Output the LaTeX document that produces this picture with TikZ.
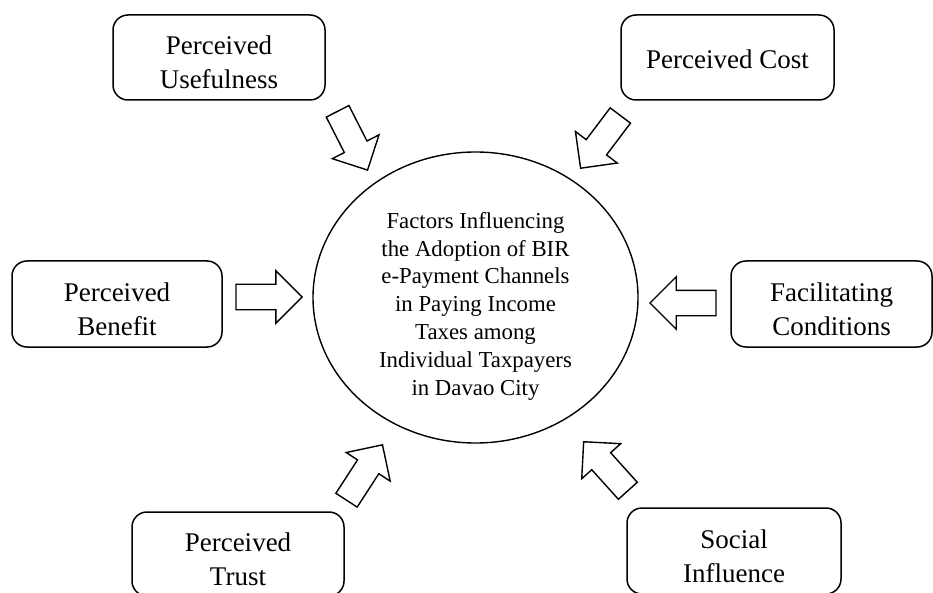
\documentclass[tikz,border=0pt]{standalone}
\usepackage{fontspec}
\setmainfont{Liberation Serif}
\usetikzlibrary{shapes.geometric,shapes.arrows}

\tikzset{
  factor/.style={draw, line width=1.5pt, rounded corners=15pt, align=center, inner sep=0pt, text height=63pt, text depth=0pt, font=\fontsize{27}{34}\selectfont},
  blockarr/.style={draw, line width=1.4pt, single arrow, inner xsep=0pt, inner ysep=12pt, minimum height=66pt, single arrow head extend=13.5pt, single arrow head indent=0pt, anchor=tip},
}

\begin{document}
\begin{tikzpicture}[x=1pt,y=1pt,yscale=-1,xscale=1]
\useasboundingbox (0,0) rectangle (933,593);
\clip (0,0) rectangle (933,593);

%Shape: Ellipse [core]
\node [draw, ellipse, line width=1.4pt, minimum width=325pt, minimum height=291pt, inner sep=0pt, align=center, text height=199pt, text depth=4pt, font=\fontsize{22.8}{27.8}\selectfont] (core) at (475.5,297.5) {Factors Influencing\\the Adoption of BIR\\e-Payment Channels\\in Paying Income\\Taxes among\\Individual Taxpayers\\in Davao City};

% Factor Boxes
\node [factor, minimum width=212pt, minimum height=85pt] (useful) at (219,57.5) {Perceived\\Usefulness};
\node [factor, minimum width=213pt, minimum height=85pt, text height=24pt, text depth=1pt] (cost) at (727.5,57.5) {Perceived Cost};
\node [factor, minimum width=210pt, minimum height=86pt] (benefit) at (117,304) {Perceived\\Benefit};
\node [factor, minimum width=201pt, minimum height=86pt] (facil) at (831.5,304) {Facilitating\\Conditions};
\node [factor, minimum width=212pt, minimum height=84pt] (trust) at (238,554) {Perceived\\Trust};
\node [factor, minimum width=214pt, minimum height=86pt] (social) at (734,551) {Social\\Influence};

% Block Arrows
\node [blockarr, rotate=-63] (aUseful) at (368,171) {};
\node [blockarr, rotate=-127] (aCost) at (580,169) {};
\node [blockarr, rotate=0] (aBenefit) at (303,297) {};
\node [blockarr, rotate=180] (aFacil) at (649,303) {};
\node [blockarr, rotate=57] (aTrust) at (383,444) {};
\node [blockarr, rotate=132] (aSocial) at (583,441) {};

\end{tikzpicture}
\end{document}
